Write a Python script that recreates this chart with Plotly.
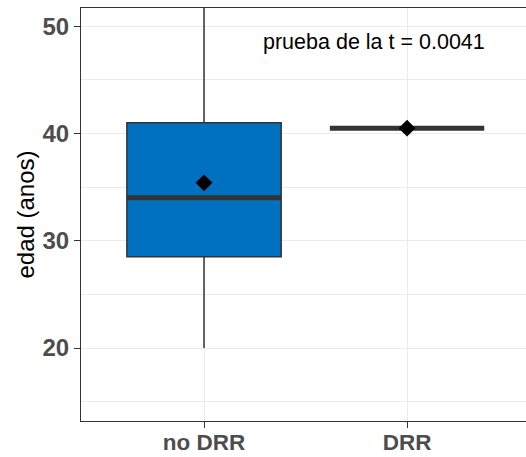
import plotly.graph_objects as go

categories = ["no DRR", "DRR"]
positions = [0, 1]
q1 = [28.5, 40.5]
median = [34.0, 40.5]
q3 = [41.0, 40.5]
lower = [20.0, 40.5]
upper = [56.0, 40.5]
means = [35.4, 40.5]
ytick_vals = [20, 30, 40, 50]
annotation_text = "prueba de la t = 0.0041"

box_w = 0.76
font_fam = "Liberation Sans, Arial, sans-serif"

fig = go.Figure()
fig.add_trace(go.Box(
    x=positions, q1=q1, median=median, q3=q3,
    lowerfence=lower, upperfence=upper,
    width=box_w, whiskerwidth=0,
    fillcolor="#0070C0", line=dict(color="#333333", width=1.5),
    boxpoints=False, showlegend=False, hoverinfo="skip",
))
for p, m in zip(positions, median):
    fig.add_trace(go.Scatter(
        x=[p - box_w / 2, p + box_w / 2], y=[m, m], mode="lines",
        line=dict(color="#333333", width=5), showlegend=False, hoverinfo="skip",
    ))
fig.add_trace(go.Scatter(
    x=positions, y=means, mode="markers",
    marker=dict(symbol="diamond", size=13, color="black"),
    showlegend=False,
))

fig.add_annotation(
    x=0.835, y=48.5, text=annotation_text, showarrow=False,
    font=dict(family=font_fam, size=21.5, color="black"),
)

fig.update_layout(
    width=526, height=457,
    margin=dict(l=81, r=0, t=8, b=36, autoexpand=False),
    paper_bgcolor="white", plot_bgcolor="white",
    font=dict(family=font_fam),
)
fig.update_xaxes(
    range=[-0.606, 1.586], tickvals=positions, ticktext=categories,
    showgrid=True, gridcolor="#EBEBEB", gridwidth=1.4,
    showline=True, linecolor="#333333", linewidth=1.2, mirror=True,
    ticks="outside", ticklen=6, tickcolor="#333333",
    tickfont=dict(family=font_fam, size=22.5, color="#4D4D4D", weight="bold"),
    ticklabelstandoff=-5,
    zeroline=False, automargin=False,
)
fig.update_yaxes(
    range=[13.2, 51.7], tickvals=ytick_vals,
    showgrid=True, gridcolor="#EBEBEB", gridwidth=1.4,
    minor=dict(tickvals=[15, 25, 35, 45], showgrid=True, gridcolor="#EBEBEB", gridwidth=1.2, ticks=""),
    showline=True, linecolor="#333333", linewidth=1.2,
    ticks="outside", ticklen=6, tickcolor="#333333",
    tickfont=dict(family=font_fam, size=24, color="#4D4D4D", weight="bold"),
    title=dict(text="edad (anos)", font=dict(family=font_fam, size=24, color="black"), standoff=0),
    zeroline=False, automargin=False,
)

fig.write_html("out.html")
